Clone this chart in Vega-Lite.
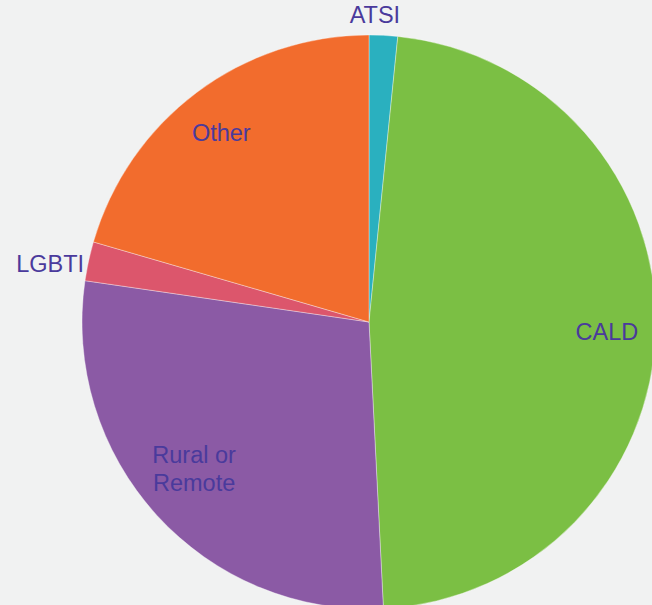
{
  "$schema": "https://vega.github.io/schema/vega-lite/v6.json",
  "autosize": "none",
  "width": 566,
  "height": 644,
  "padding": {"left": 86, "top": 0, "right": 0, "bottom": 0},
  "background": "#f1f2f2",
  "view": {"stroke": null},
  "data": {"values": [
    {"category": "ATSI", "label": "ATSI", "value": 1.6, "idx": 1},
    {"category": "CALD", "label": "CALD", "value": 47.6, "idx": 2},
    {"category": "Rural or Remote", "label": "Rural or\nRemote", "value": 28.1, "idx": 3},
    {"category": "LGBTI", "label": "LGBTI", "value": 2.2, "idx": 4},
    {"category": "Other", "label": "Other", "value": 20.5, "idx": 5}
  ]},
  "encoding": {
    "theta": {"field": "value", "type": "quantitative", "stack": true},
    "order": {"field": "idx", "type": "quantitative"}
  },
  "layer": [
    {
      "mark": {"type": "arc", "outerRadius": 287, "stroke": "#ffffff", "strokeWidth": 0.6, "strokeOpacity": 0.6},
      "encoding": {
        "color": {
          "field": "category", "type": "nominal", "legend": null,
          "scale": {
            "domain": ["ATSI", "CALD", "Rural or Remote", "LGBTI", "Other"],
            "range": ["#2ab0bf", "#7bbf44", "#8b5aa5", "#dc566c", "#f26c2d"]
          }
        }
      }
    },
    {
      "mark": {"type": "text", "radius": 241, "dx": -3, "dy": 5, "fontSize": 23.5, "font": "Liberation Sans", "color": "#4a3a9c", "lineBreak": "\n"},
      "encoding": {
        "text": {"condition": {"test": "datum.category === 'CALD' || datum.category === 'Other'", "field": "label"}, "value": ""}
      }
    },
    {
      "mark": {"type": "text", "radius": 227, "dx": -7, "dy": -19, "fontSize": 23.5, "font": "Liberation Sans", "color": "#4a3a9c", "lineBreak": "\n", "lineHeight": 28},
      "encoding": {
        "text": {"condition": {"test": "datum.category === 'Rural or Remote'", "field": "label"}, "value": ""}
      }
    },
    {
      "mark": {"type": "text", "radius": 316, "dx": -10, "dy": 10, "fontSize": 23.5, "font": "Liberation Sans", "color": "#4a3a9c", "lineBreak": "\n"},
      "encoding": {
        "text": {"condition": {"test": "datum.value < 5", "field": "label"}, "value": ""}
      }
    }
  ]
}
